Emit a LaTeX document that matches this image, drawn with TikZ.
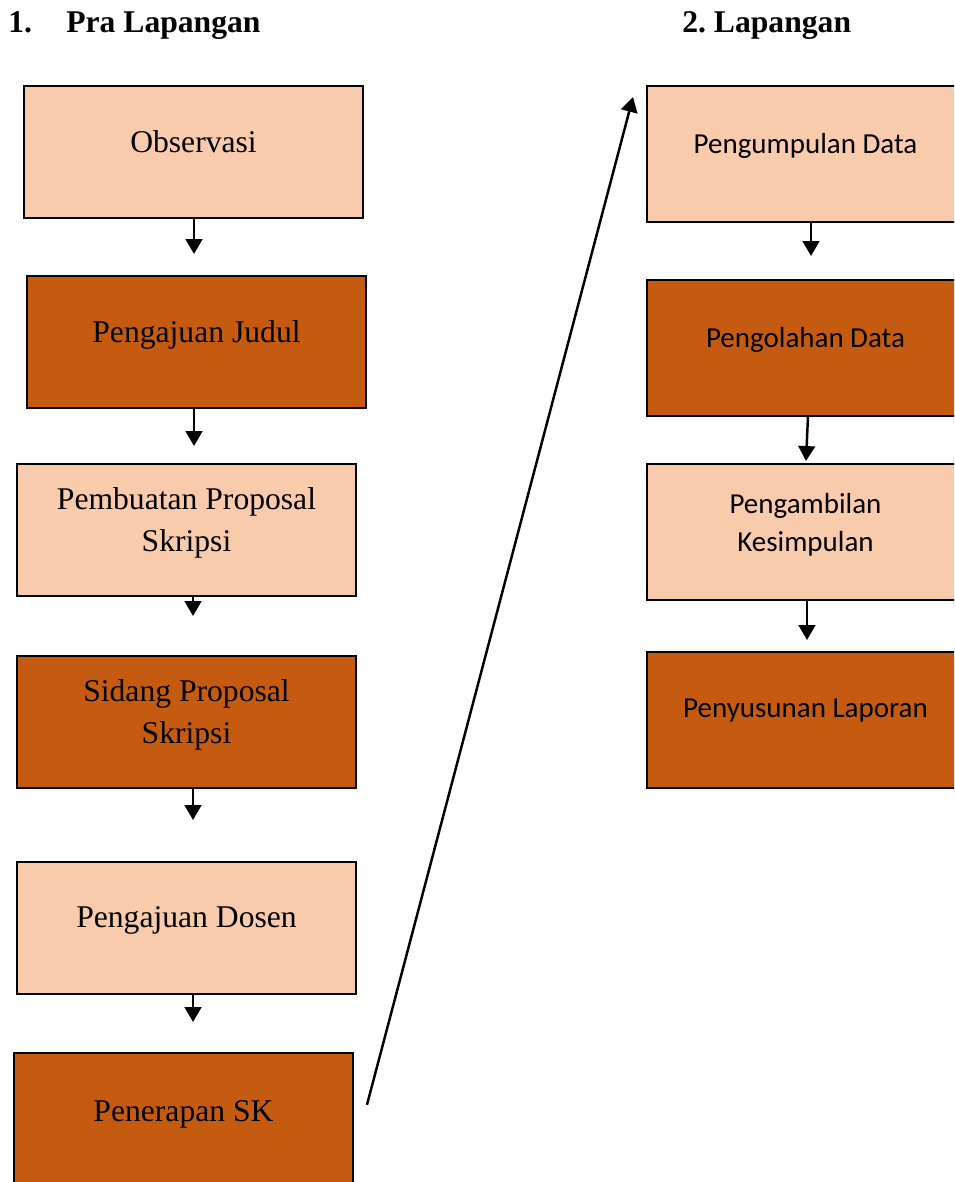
\documentclass[tikz,border=0pt]{standalone}
\usepackage{fontspec}
\setmainfont{Liberation Serif}
\newfontfamily\calibri{Carlito}
\usepackage{tikz}
\usetikzlibrary{arrows.meta,positioning,calc}
\definecolor{stageLite}{HTML}{F8CBAD}
\definecolor{stageDark}{HTML}{C55A11}
\tikzset{
  prabox/.style={
    rectangle, draw=black, line width=1.2pt, fill=#1,
    minimum width=6.78cm, minimum height=2.64cm, inner sep=0pt, outer sep=0pt
  },
  lapbox/.style={
    rectangle, draw=black, line width=1.2pt, fill=#1,
    minimum width=6.34cm, minimum height=2.72cm, inner sep=0pt, outer sep=0pt
  },
  pratxt/.style={
    align=center, inner sep=0pt,
    font=\fontsize{18}{23.8}\selectfont
  },
  laptxt/.style={
    align=center, inner sep=0pt,
    font=\calibri\fontsize{16.5}{21.5}\selectfont
  },
  headtxt/.style={anchor=base west, inner sep=0pt, font=\fontsize{18}{22}\selectfont\bfseries},
  myarr/.style={-{Triangle[length=8.5pt,width=9.5pt]}, line width=1.4pt, #1},
}
\begin{document}
\begin{tikzpicture}[x=0.02cm, y=-0.02cm]
  \useasboundingbox (0,0) rectangle (954,1182);
  \clip (0,0) rectangle (954,1182);

  % Headings
  \node[headtxt] (h1n) at (8,33)   {1.};
  \node[headtxt] (h1)  at (66,33)  {Pra Lapangan};
  \node[headtxt] (h2)  at (682,33) {2.\hspace{0.25em}Lapangan};

  % Column 1 — Pra Lapangan
  \node[prabox=stageLite] (obs) at (193.5,152) {};
  \node[prabox=stageDark, below=1.16cm of obs, xshift=0.06cm] (jud) {};
  \node[prabox=stageLite, below=1.12cm of jud, xshift=-0.2cm] (prop) {};
  \node[prabox=stageDark, below=1.2cm of prop] (sid) {};
  \node[prabox=stageLite, below=1.48cm of sid] (dos) {};
  \node[prabox=stageDark, below=1.18cm of dos, xshift=-0.06cm] (pen) {};

  \node[pratxt] (obs-t)  at ([yshift=0.2cm]obs.center)   {Observasi};
  \node[pratxt] (jud-t)  at ([yshift=0.14cm]jud.center)  {Pengajuan Judul};
  \node[pratxt] (prop-t) at ([yshift=0.14cm]prop.center) {Pembuatan Proposal\\Skripsi};
  \node[pratxt] (sid-t)  at ([yshift=0.14cm]sid.center)  {Sidang Proposal\\Skripsi};
  \node[pratxt] (dos-t)  at ([yshift=0.14cm]dos.center)  {Pengajuan Dosen};
  \node[pratxt] (pen-t)  at ([yshift=0.08cm]pen.center)  {Penerapan SK};

  % Column 2 — Lapangan
  \node[lapbox=stageLite] (kum) at (805.5,154) {};
  \node[lapbox=stageDark, below=1.16cm of kum] (olah) {};
  \node[lapbox=stageLite, below=0.96cm of olah] (simp) {};
  \node[lapbox=stageDark, below=1.04cm of simp] (lap) {};

  \node[laptxt] (kum-t)  at ([yshift=0.16cm]kum.center)  {Pengumpulan Data};
  \node[laptxt] (olah-t) at ([yshift=0.16cm]olah.center) {Pengolahan Data};
  \node[laptxt] (simp-t) at ([yshift=0.14cm]simp.center) {Pengambilan\\Kesimpulan};
  \node[laptxt] (lap-t)  at ([yshift=0.18cm]lap.center)  {Penyusunan Laporan};

  % Arrow ends
  \coordinate (a1) at (194,254);
  \coordinate (a2) at (194,446);
  \coordinate (a3) at (193,616);
  \coordinate (a4) at (193,820);
  \coordinate (a5) at (193,1022);
  \coordinate (b1) at (811,256);
  \coordinate (b2) at (806,461);
  \coordinate (b3) at (807,640);

  % Arrows
  \draw[myarr=black] (obs.south -| a1)  -- (a1);
  \draw[myarr=black] (jud.south -| a2)  -- (a2);
  \draw[myarr=black] (prop.south -| a3) -- (a3);
  \draw[myarr=black] (sid.south -| a4)  -- (a4);
  \draw[myarr=black] (dos.south -| a5)  -- (a5);
  \draw[myarr=black] (kum.south -| b1)  -- (b1);
  \draw[myarr=black] ([xshift=0.05cm]olah.south) -- (b2);
  \draw[myarr=black] (simp.south -| b3) -- (b3);
  \draw[myarr=black] ($(pen.east)+(14,-14)$) -- ($(kum.north west)+(-14,11)$);
\end{tikzpicture}
\end{document}
